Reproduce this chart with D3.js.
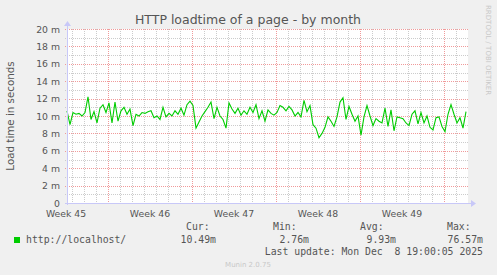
<!DOCTYPE html>
<html>
<head>
<meta charset="utf-8">
<script src="https://cdn.jsdelivr.net/npm/d3@7"></script>
<style>
    body { margin: 0; background: #f0f0f0; }
    svg { display: block; }
</style>
</head>
<body>
<div id="chart"></div>
<script>

// data: load time (ms), one sample every 6 hours
var seriesName = "http://localhost/";
var startTime = new Date(2025, 10, 6, 14, 0, 0);
var stepHours = 6;
var loadTimes = [
    10.6, 9.0, 10.4, 10.2, 10.3, 10.0, 10.4, 12.2, 9.6, 10.5, 9.2, 10.9, 11.3, 10.4, 11.5, 9.2,
    11.6, 9.4, 10.6, 11.0, 10.2, 10.8, 8.9,
    10.2, 10.0, 10.4, 10.3, 10.5, 10.6, 9.8, 10.0, 9.6, 11.0, 9.9, 10.3, 10.0, 10.6, 10.2, 10.9,
    10.1, 11.3, 11.7, 11.2, 8.6, 9.3,
    10.0, 10.5, 11.0, 11.6, 9.7, 11.0, 10.0, 9.6, 8.6, 11.5, 10.8, 10.3, 10.9, 10.1, 10.6, 10.2,
    11.0, 10.4, 11.3, 9.7, 10.6, 9.4,
    10.7, 10.3, 10.1, 10.4, 11.2, 11.0, 10.6, 11.1, 10.7, 10.0, 10.4, 9.9, 11.8, 10.5, 11.2, 9.0,
    8.6, 7.5, 8.0, 8.7, 9.9, 9.4, 8.8,
    9.9, 11.6, 12.1, 9.6, 11.1, 10.2, 9.4, 10.0, 7.8, 9.9, 11.2, 10.0, 8.9, 9.7, 9.4, 9.2,
    10.9, 8.8, 10.7, 8.3, 9.9, 9.8,
    9.7, 9.2, 8.9, 10.2, 10.6, 9.1, 10.4, 9.2, 10.0, 8.7, 8.4, 9.8, 9.9, 8.8, 8.2, 10.2,
    11.3, 10.2, 9.2, 9.8, 8.6, 10.5
];

// axis ticks
var yTicks = [0, 2, 4, 6, 8, 10, 12, 14, 16, 18, 20];
var weekStarts = [
    new Date(2025, 10, 3), new Date(2025, 10, 10), new Date(2025, 10, 17),
    new Date(2025, 10, 24), new Date(2025, 11, 1), new Date(2025, 11, 8)
];
var weekLabels = ["Week 45", "Week 46", "Week 47", "Week 48", "Week 49", "Week 50"];

// legend values
var legendHeads = ["Cur:", "Min:", "Avg:", "Max:"];
var legendValues = ["10.49m", "2.76m", "9.93m", "76.57m"];
var lastUpdate = "Last update: Mon Dec  8 19:00:05 2025";

var svgWidth = 497, svgHeight = 275;
var margin = {top: 29, left: 67, right: 29, bottom: 72};
var width = svgWidth - margin.left - margin.right;
var height = svgHeight - margin.top - margin.bottom;

var sans = "'DejaVu Sans', sans-serif";
var mono = "'DejaVu Sans Mono', monospace";
var textCol = "#555";

var svg = d3.select("#chart").append("svg")
    .attr("width", svgWidth).attr("height", svgHeight);

svg.append("rect").attr("width", svgWidth).attr("height", svgHeight).attr("fill", "#f0f0f0");

var g = svg.append("g")
    .attr("transform", "translate(" + margin.left + " " + margin.top + ")");

// scales
var endTime = d3.timeHour.offset(startTime, width * 2);
var x = d3.scaleTime().domain([startTime, endTime]).range([0, width]);
var y = d3.scaleLinear().domain([0, 20]).range([height, 0]);

g.append("rect").attr("width", width).attr("height", height).attr("fill", "#fff");

// minor grid (1 m, 1 day)
var minorY = d3.range(0, 21).filter(function(v) { return v % 2 != 0; });
g.selectAll(".ygridminor").data(minorY).enter().append("line")
    .attr("x1", -2).attr("x2", width)
    .attr("y1", function(d) { return Math.round(y(d)) + 0.5; })
    .attr("y2", function(d) { return Math.round(y(d)) + 0.5; })
    .attr("stroke", "#ccc").attr("stroke-dasharray", "1,1");

var days = d3.timeDay.range(startTime, endTime).filter(function(d) { return d.getDay() != 1; });
g.selectAll(".xgridminor").data(days).enter().append("line")
    .attr("x1", function(d) { return Math.round(x(d)) + 0.5; })
    .attr("x2", function(d) { return Math.round(x(d)) + 0.5; })
    .attr("y1", 0).attr("y2", height + 2)
    .attr("stroke", "#ccc").attr("stroke-dasharray", "1,1");

// major grid (2 m, 1 week)
g.selectAll(".ygrid").data(yTicks.slice(1)).enter().append("line")
    .attr("x1", -2).attr("x2", width)
    .attr("y1", function(d) { return Math.round(y(d)) + 0.5; })
    .attr("y2", function(d) { return Math.round(y(d)) + 0.5; })
    .attr("stroke", "#f09a9a").attr("stroke-dasharray", "1,1");

var mondays = weekStarts.filter(function(d) { return d > startTime && d < endTime; });
g.selectAll(".xgrid").data(mondays).enter().append("line")
    .attr("x1", function(d) { return Math.round(x(d)) + 0.5; })
    .attr("x2", function(d) { return Math.round(x(d)) + 0.5; })
    .attr("y1", 0).attr("y2", height + 2)
    .attr("stroke", "#f09a9a").attr("stroke-dasharray", "1,1");

// y tick labels
g.selectAll(".ylabel").data(yTicks).enter().append("text")
    .attr("x", -7).attr("y", function(d) { return y(d) + 3.5; })
    .attr("text-anchor", "end")
    .attr("font-family", sans).attr("font-size", "9.3px")
    .attr("fill", textCol)
    .text(function(d) { return d == 0 ? "0" : d + " m"; });

// x labels, centred in each week
g.selectAll(".xlabel").data(weekStarts).enter().append("text")
    .attr("x", function(d) { return x(d3.timeHour.offset(d, 84)); })
    .attr("y", height + 13.5)
    .attr("text-anchor", "middle")
    .attr("font-family", sans).attr("font-size", "9.3px")
    .attr("fill", textCol)
    .text(function(d, i) { return weekLabels[i]; })
    .filter(function(d) {
        var p = x(d3.timeHour.offset(d, 84));
        return p < -5 || p > width;
    }).remove();

// the line
var line = d3.line()
    .x(function(d, i) { return x(d3.timeHour.offset(startTime, i * stepHours)); })
    .y(function(d) { return y(d); });

g.append("path")
    .datum(loadTimes)
    .attr("d", line)
    .attr("fill", "none")
    .attr("stroke", "#00cc00")
    .attr("stroke-width", 1.1);

// axes with arrows
var axisCol = "#c8c8f8";
g.append("line").attr("x1", 0.5).attr("x2", 0.5).attr("y1", height + 2).attr("y2", -4)
    .attr("stroke", axisCol);
g.append("line").attr("x1", -2).attr("x2", width + 4).attr("y1", height + 0.5).attr("y2", height + 0.5)
    .attr("stroke", axisCol);
g.append("path").attr("d", "M-3,-3 L4,-3 L0.5,-8 Z").attr("fill", axisCol);
g.append("path").attr("d", "M" + (width + 3) + "," + (height - 3) + " L" + (width + 3) + "," + (height + 4) +
        " L" + (width + 8) + "," + (height + 0.5) + " Z").attr("fill", axisCol);

// title
svg.append("text")
    .attr("x", 248).attr("y", 24)
    .attr("text-anchor", "middle")
    .attr("font-family", sans).attr("font-size", "12.5px")
    .attr("fill", textCol)
    .text("HTTP loadtime of a page - by month");

// y axis name
svg.append("text")
    .attr("transform", "translate(14 116) rotate(-90)")
    .attr("text-anchor", "middle")
    .attr("font-family", sans).attr("font-size", "10.3px")
    .attr("fill", textCol)
    .text("Load time in seconds");

// rrdtool watermark
svg.append("text")
    .attr("transform", "translate(486 5) rotate(90)")
    .attr("font-family", sans).attr("font-size", "7px")
    .attr("fill", "#c8c8c8")
    .text("RRDTOOL / TOBI OETIKER");

// legend
svg.append("rect").attr("x", 14).attr("y", 237).attr("width", 6).attr("height", 6)
    .attr("fill", "#00cc00");
svg.append("text").attr("x", 26).attr("y", 243)
    .attr("font-family", mono).attr("font-size", "9.8px").attr("fill", textCol)
    .attr("xml:space", "preserve")
    .text(seriesName);

var headX = [186, 273, 360, 447];
var valRight = [216, 309, 396, 483];
svg.selectAll(".lhead").data(legendHeads).enter().append("text")
    .attr("x", function(d, i) { return headX[i]; }).attr("y", 230)
    .attr("font-family", mono).attr("font-size", "9.8px").attr("fill", textCol)
    .text(function(d) { return d; });
svg.selectAll(".lval").data(legendValues).enter().append("text")
    .attr("x", function(d, i) { return valRight[i]; }).attr("y", 243)
    .attr("text-anchor", "end")
    .attr("font-family", mono).attr("font-size", "9.8px").attr("fill", textCol)
    .text(function(d) { return d; });

svg.append("text").attr("x", 483).attr("y", 254.5)
    .attr("text-anchor", "end")
    .attr("font-family", mono).attr("font-size", "9.8px").attr("fill", textCol)
    .style("white-space", "pre")
    .text(lastUpdate);

svg.append("text").attr("x", 248).attr("y", 267)
    .attr("text-anchor", "middle")
    .attr("font-family", sans).attr("font-size", "7px")
    .attr("fill", "#c8c8c8")
    .text("Munin 2.0.75");

</script>
</body>
</html>
